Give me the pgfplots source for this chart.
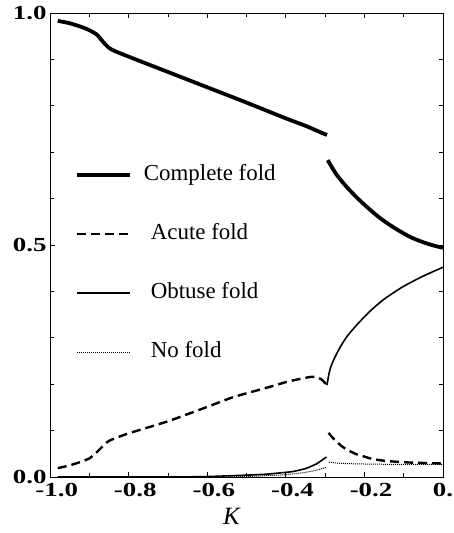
\documentclass[border=0pt]{standalone}
\usepackage{pgfplots}
\pgfplotsset{compat=1.18}
\usepackage{fontspec}
\setmainfont{Liberation Serif}

\begin{document}
\begin{tikzpicture}
\begin{axis}[
    scale only axis,
    width=393bp, height=464bp,
    xmin=-1, xmax=0, ymin=0, ymax=1,
    xtick={-1,-0.8,-0.6,-0.4,-0.2,0},
    xticklabels={-1.0,-0.8,-0.6,-0.4,-0.2,0.0},
    ytick={0,0.5,1},
    yticklabels={0.0,0.5,1.0},
    minor x tick num=1,
    minor y tick num=4,
    major tick length=5bp,
    minor tick length=4bp,
    tick style={black, line width=0.6bp},
    axis line style={line width=0.8bp},
    ticklabel style={font=\fontsize{20}{20}\selectfont\bfseries, xscale=1.35},
    xticklabel style={yshift=-3bp, xshift=5bp},
    yticklabel style={xshift=1bp},
    xlabel={\textit{K}},
    xlabel style={font=\fontsize{25}{25}\selectfont, at={(axis description cs:0.463,0)}, anchor=north, yshift=-28bp},
    unbounded coords=jump,
    legend image code/.code={\draw[#1] (0bp,0bp) -- (53bp,0bp);},
    legend style={at={(axis cs:-0.936,0.673)}, anchor=north west, draw=none, fill=none,
        inner sep=0pt, outer sep=0pt, font=\fontsize{23}{23}\selectfont,
        row sep=38bp, column sep=12bp,
        nodes={text height=16bp, text depth=5bp, inner sep=0pt}},
    legend cell align=left,
]
% complete fold
\addplot[black, line width=3.8bp, smooth, tension=0.4] coordinates {
(-0.98,0.983) (-0.95,0.978) (-0.92,0.970) (-0.90,0.963) (-0.88,0.953) (-0.865,0.938)
(-0.85,0.925) (-0.835,0.918) (-0.80,0.906) (-0.70,0.873) (-0.60,0.840) (-0.50,0.807)
(-0.40,0.773) (-0.35,0.757) (-0.32,0.746) (-0.295,0.737)
(-0.295,nan)
(-0.293,0.683) (-0.285,0.671) (-0.27,0.651) (-0.25,0.630) (-0.237,0.618) (-0.22,0.603)
(-0.20,0.587) (-0.18,0.572) (-0.16,0.558) (-0.14,0.546) (-0.12,0.535) (-0.10,0.525)
(-0.08,0.516) (-0.06,0.509) (-0.04,0.503) (-0.02,0.498) (0,0.494)
};
\addlegendentry{Complete fold}
% acute fold
\addplot[black, line width=2.4bp, dash pattern=on 9bp off 5bp, smooth, tension=0.4] coordinates {
(-0.98,0.019) (-0.95,0.025) (-0.92,0.033) (-0.90,0.040) (-0.885,0.050) (-0.873,0.060)
(-0.86,0.071) (-0.847,0.079) (-0.80,0.094) (-0.70,0.120) (-0.60,0.151) (-0.534,0.172)
(-0.45,0.192) (-0.397,0.205) (-0.36,0.212) (-0.331,0.216) (-0.31,0.211) (-0.295,0.198)
(-0.293,nan)
(-0.291,0.095) (-0.28,0.084) (-0.27,0.076) (-0.26,0.068) (-0.25,0.062) (-0.235,0.055)
(-0.22,0.049) (-0.20,0.044) (-0.18,0.039) (-0.15,0.035) (-0.12,0.033) (-0.08,0.031)
(-0.04,0.030) (0,0.029)
};
\addlegendentry{\hspace{7bp}Acute fold}
% obtuse fold
\addplot[black, line width=1.6bp, smooth, tension=0.4] coordinates {
(-0.98,0) (-0.70,0.000) (-0.60,0.001) (-0.50,0.004) (-0.45,0.006) (-0.40,0.010)
(-0.38,0.012) (-0.35,0.018) (-0.338,0.022) (-0.32,0.029) (-0.31,0.035) (-0.296,0.043)
(-0.296,nan)
(-0.295,0.198) (-0.29,0.222) (-0.285,0.238) (-0.275,0.258) (-0.26,0.282) (-0.244,0.303)
(-0.22,0.327) (-0.186,0.357) (-0.15,0.383) (-0.102,0.410) (-0.05,0.433) (0,0.452)
};
\addlegendentry{\hspace{7bp}Obtuse fold}
% no fold
\addplot[black, line width=1bp, dash pattern=on 1bp off 1bp, smooth, tension=0.4] coordinates {
(-0.98,0) (-0.60,0.000) (-0.50,0.001) (-0.45,0.003) (-0.40,0.005) (-0.35,0.010)
(-0.32,0.015) (-0.296,0.021)
(-0.293,nan)
(-0.29,0.032) (-0.27,0.030) (-0.25,0.029) (-0.20,0.028) (-0.10,0.027) (0,0.027)
};
\addlegendentry{\hspace{7bp}No fold}
\coordinate (bbsw) at (axis cs:-1.127,-0.1207);
\coordinate (bbne) at (axis cs:0.028,1.028);
\end{axis}
\pgfresetboundingbox
\useasboundingbox (bbsw) rectangle (bbne);
\end{tikzpicture}
\end{document}
